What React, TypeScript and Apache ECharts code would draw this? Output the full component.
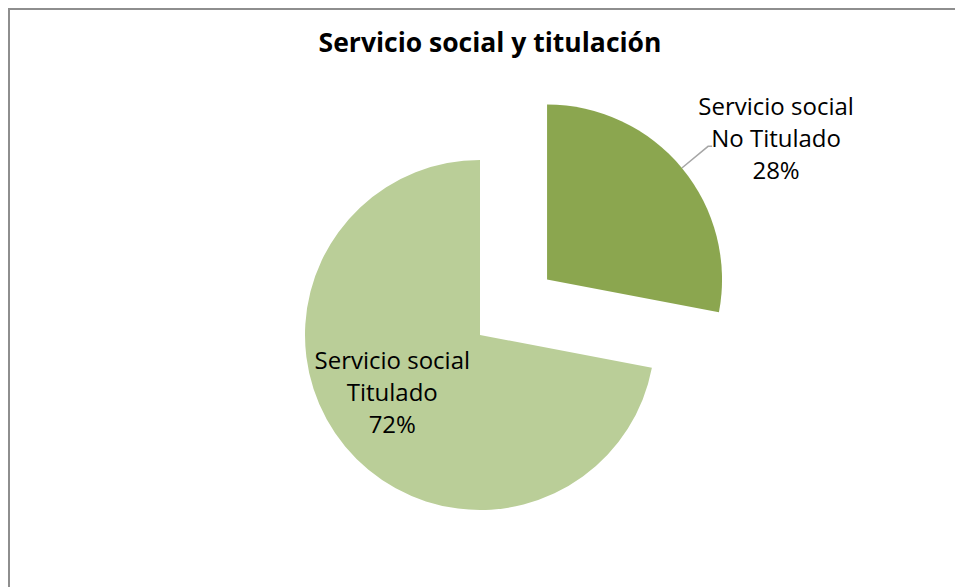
import React, { useEffect, useRef } from "react";
import * as echarts from "echarts";

const titleText = "Servicio social y titulación";
const categories = ["Servicio social\nNo Titulado", "Servicio social\nTitulado"];
const values = [28, 72];
const colors = ["#8BA64F", "#BACE98"];

export default function App() {
  const ref = useRef<HTMLDivElement>(null);
  useEffect(() => {
    document.body.style.overflow = "hidden";
    const chart = echarts.init(ref.current!, null, { renderer: "svg" });
    const font = "'Open Sans', 'Noto Sans', sans-serif";
    const data = categories.map((name, i) => {
      const lines = name.split("\n").concat([values[i] + "%"]);
      const rich = lines.map((l) => "{a|" + l + "}").join("\n");
      return {
        name,
        value: values[i],
        selected: i === 0,
        itemStyle: { color: colors[i] },
        label:
          i === 0
            ? { position: "outside", formatter: rich }
            : { position: "inside", formatter: rich },
        labelLine: i === 0 ? { show: true } : { show: false },
      };
    });
    chart.setOption({
      animation: false,
      title: {
        text: titleText,
        left: 477,
        top: 15,
        textAlign: "center",
        textStyle: { fontFamily: font, fontWeight: "bold", fontSize: 26.5, color: "#000" },
      },
      graphic: [
        {
          type: "rect",
          shape: { x: 1, y: 1, width: 3000, height: 3000 },
          style: { fill: "none", stroke: "#8e8e8e", lineWidth: 2 },
          silent: true,
        },
      ],
      series: [
        {
          type: "pie",
          center: [472, 327],
          radius: [0, 175],
          startAngle: 90,
          clockwise: true,
          selectedMode: "single",
          selectedOffset: 87,
          avoidLabelOverlap: false,
          label: {
            color: "#000",
            fontFamily: font,
            fontSize: 24,
            rich: {
              a: {
                fontFamily: font,
                fontSize: 24,
                color: "#000",
                width: 156,
                align: "center",
                lineHeight: 32,
              },
            },
          },
          labelLine: {
            length: 34,
            length2: 4,
            lineStyle: { color: "#a6a6a6", width: 1.5 },
          },
          labelLayout: (p: any) =>
            p.dataIndex === 1 ? { dx: -18, dy: -1 } : { dx: -19, dy: -9 },
          emphasis: { disabled: true },
          data,
        },
      ],
    });
    return () => chart.dispose();
  }, []);
  return <div ref={ref} style={{ width: 955, height: 579 }} />;
}
